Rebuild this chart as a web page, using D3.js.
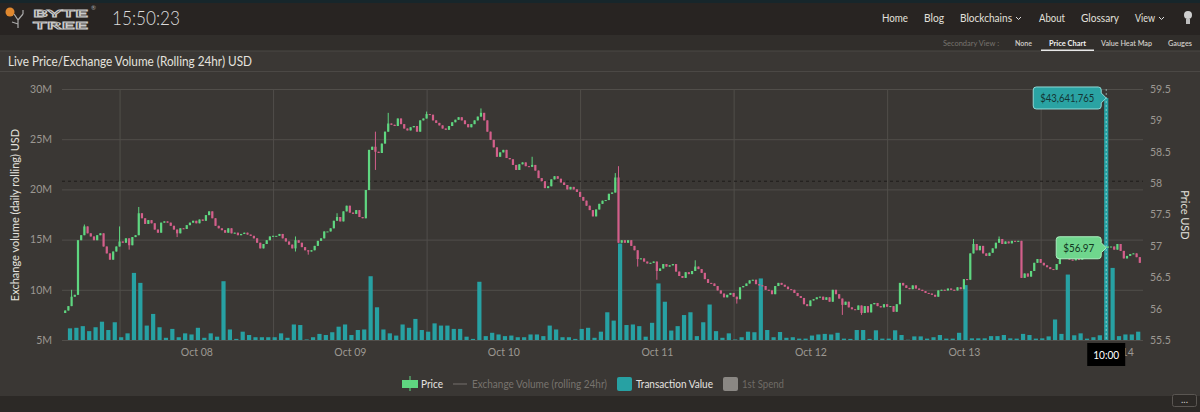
<!DOCTYPE html>
<html>
<head>
<meta charset="utf-8">
<script src="https://cdn.jsdelivr.net/npm/d3@7"></script>
<style>
  html, body { margin: 0; padding: 0; background: #3a3734; overflow: hidden; }
  svg { display: block; font-family: Lato, "Noto Sans", sans-serif; }
</style>
</head>
<body>
<svg id="chart" width="1200" height="412"></svg>
<script>
// ---- data ----
const candleStart = new Date(2019, 9, 7, 15, 30);   // 30 min candles
const candleStepMin = 30;
const firstOpen = 55.93;
const priceCloses = [
  55.97, 56.04, 56.19, 56.22, 57.09, 57.17, 57.31, 57.20, 57.15, 57.09,
  57.17, 57.20, 56.99, 56.88, 56.78, 56.91, 56.99, 57.07, 57.05, 57.12,
  57.01, 57.14, 57.17, 57.52, 57.44, 57.35, 57.41, 57.36, 57.26, 57.21,
  57.37, 57.39, 57.37, 57.32, 57.26, 57.20, 57.28, 57.27, 57.33, 57.37,
  57.40, 57.36, 57.42, 57.40, 57.49, 57.55, 57.44, 57.32, 57.28, 57.25,
  57.21, 57.28, 57.20, 57.21, 57.17, 57.19, 57.21, 57.18, 57.16, 57.12,
  57.05, 56.96, 57.03, 57.09, 57.15, 57.16, 57.16, 57.19, 57.12, 57.07,
  57.02, 56.96, 57.09, 57.05, 56.98, 56.93, 56.91, 56.93, 57.00, 57.08,
  57.12, 57.23, 57.23, 57.28, 57.40, 57.46, 57.39, 57.55, 57.64, 57.53,
  57.51, 57.57, 57.46, 57.44, 57.89, 58.53, 58.58, 58.50, 58.48, 58.63,
  58.82, 58.95, 58.93, 58.91, 59.03, 58.94, 58.87, 58.84, 58.89, 58.91,
  58.82, 59.00, 59.03, 59.10, 59.09, 59.00, 58.96, 58.92, 58.87, 58.85,
  58.91, 58.97, 59.01, 59.05, 59.00, 58.94, 58.89, 58.94, 59.00, 59.06,
  59.12, 59.00, 58.82, 58.69, 58.57, 58.42, 58.49, 58.53, 58.40, 58.38,
  58.29, 58.21, 58.30, 58.33, 58.27, 58.26, 58.29, 58.20, 58.08, 58.03,
  57.92, 57.95, 58.06, 58.11, 58.07, 58.01, 57.97, 57.90, 57.94, 57.90,
  57.86, 57.78, 57.72, 57.64, 57.57, 57.47, 57.58, 57.67, 57.72, 57.73,
  57.83, 57.85, 58.09, 57.05, 57.09, 57.05, 57.09, 57.00, 56.93, 56.79,
  56.80, 56.75, 56.72, 56.73, 56.75, 56.60, 56.64, 56.71, 56.67, 56.69,
  56.71, 56.59, 56.52, 56.49, 56.58, 56.55, 56.60, 56.67, 56.63, 56.57,
  56.47, 56.41, 56.40, 56.36, 56.29, 56.24, 56.18, 56.22, 56.25, 56.19,
  56.15, 56.34, 56.36, 56.40, 56.45, 56.46, 56.39, 56.37, 56.36, 56.30,
  56.29, 56.23, 56.36, 56.41, 56.38, 56.35, 56.31, 56.30, 56.25, 56.20,
  56.17, 56.07, 56.04, 56.13, 56.15, 56.18, 56.19, 56.14, 56.18, 56.11,
  56.30, 56.23, 56.16, 56.06, 56.11, 56.02, 55.99, 55.98, 56.05, 55.93,
  56.04, 55.94, 56.07, 56.09, 56.04, 56.02, 56.07, 56.03, 56.04, 55.95,
  56.07, 56.41, 56.37, 56.33, 56.31, 56.37, 56.32, 56.30, 56.28, 56.25,
  56.24, 56.22, 56.19, 56.29, 56.30, 56.29, 56.32, 56.30, 56.29, 56.34,
  56.31, 56.47, 56.46, 56.88, 57.03, 56.93, 57.00, 56.88, 56.84, 56.89,
  56.96, 57.05, 57.11, 57.03, 57.07, 57.04, 57.08, 57.07, 57.08, 56.49,
  56.56, 56.51, 56.60, 56.73, 56.79, 56.73, 56.69, 56.66, 56.63, 56.62,
  56.71, 56.85, 56.83, 56.80, 56.78, 56.77, 56.79, 56.78, 56.82, 56.86,
  56.90, 56.93, 56.95, 56.98, 56.96, 56.97, 56.99, 56.99, 56.94, 57.03,
  56.92, 56.80, 56.84, 56.87, 56.88, 56.82, 56.73
];
// wicks that reach beyond the body: [candle index, price]
const priceHighs = [
  [2, 56.30], [6, 57.34], [17, 57.31], [23, 57.62], [72, 57.15], [85, 57.52],
  [97, 58.82], [101, 59.12], [113, 59.14], [130, 59.19], [146, 58.42],
  [172, 58.16], [173, 58.27], [197, 56.77], [284, 57.11], [292, 57.15]
];
const priceLows = [
  [20, 56.94], [35, 57.14], [72, 56.91], [76, 56.86], [97, 58.21],
  [179, 56.67], [185, 56.46], [210, 56.08], [243, 55.90], [249, 55.90]
];

const txStart = new Date(2019, 9, 7, 16, 0);         // hourly transaction value
const txValuesM = [
  2.1, 2.2, 2.5, 1.6, 2.3, 3.3, 1.8, 3.2, 0.5, 1.2,
  12.1, 10.3, 2.6, 4.7, 2.3, 0.4, 2.0, 0.5, 1.2, 1.0,
  2.2, 0.4, 1.2, 0.6, 10.6, 1.9, 0.2, 1.5, 0.9, 0.5,
  0.5, 0.5, 0.5, 1.2, 0.4, 2.8, 2.7, 0.1, 0.5, 1.1,
  0.9, 1.4, 2.4, 2.8, 0.9, 1.8, 1.9, 11.5, 5.9, 1.9,
  1.2, 0.8, 2.8, 2.2, 3.8,
  1.8, 1.5, 3.0, 2.6, 2.6, 2.0, 2.0, 0.6, 0.2, 10.5,
  0.7, 1.3, 1.0, 0.7, 0.8, 0.5, 0.5, 1.0, 1.0, 0.7,
  2.6, 1.9, 0.5, 0.5, 0.2, 2.0, 2.2, 0.4, 1.5, 5.0,
  3.5, 17.4, 2.7, 2.8, 2.5, 0.6, 3.1, 10.2, 6.9, 1.7,
  2.5, 4.5, 5.0, 0.7, 3.2, 6.4, 1.6, 0.4, 1.2, 0.1,
  0.5, 1.5, 1.4, 11.1, 1.8, 0.5,
  1.44, 0.4, 0.5, 0.25, 0.25, 0.8, 1.0, 1.1, 1.0, 1.3,
  0.25, 0.2, 1.8, 1.8, 0.2, 1.75, 0.25, 0.25, 1.75, 0.9,
  0.05, 0.65, 0.65, 0.25, 0.5, 0.9, 0.25, 0.25, 1.3, 9.9,
  0.3, 0.3, 0.3, 0.7, 0.7, 0.9, 0.3, 0.25, 1.1, 0.9,
  0.25, 0.3, 0.65, 3.7, 1.1, 11.8, 0.85, 1.2, 0.25, 0.5,
  0.85, 43.641765, 13.0, 0.7, 1.0, 1.0, 1.5
];
const txAxisMaxM = 45.26;

const volumeTicks = [5e6, 10e6, 15e6, 20e6, 25e6, 30e6];
const priceTicks = [55.5, 56, 56.5, 57, 57.5, 58, 58.5, 59, 59.5];
const refPrice = 58.03;
const hoverTime = new Date(2019, 9, 14, 10, 0);
const timeDomain = [new Date(2019, 9, 7, 15, 0), new Date(2019, 9, 14, 16, 0)];

const navLinks = [
  { label: "Home", x: 882, w: 26 }, { label: "Blog", x: 924, w: 20 },
  { label: "Blockchains", x: 960, w: 52, caret: true }, { label: "About", x: 1039, w: 26 },
  { label: "Glossary", x: 1081, w: 38 }, { label: "View", x: 1135, w: 20, caret: true }
];
const secondaryItems = [
  { label: "None", x: 1015, w: 17 }, { label: "Price Chart", x: 1049, w: 37, active: true },
  { label: "Value Heat Map", x: 1101, w: 51 }, { label: "Gauges", x: 1168, w: 24 }
];

// ---- layout ----
const plot = { left: 62, right: 1143, top: 89, bottom: 340 };
const colors = {
  up: "#5fd680", down: "#d35f8b", tx: "#27a1a3", grid: "#514e4a",
  tick: "#9c9892", text: "#e4e2de"
};
const fontStack = "Lato, 'Noto Sans', sans-serif";

const svg = d3.select("#chart");

// text squeezed to the width the reference shows
function fitText(sel, w) {
  return sel.attr("textLength", w).attr("lengthAdjust", "spacingAndGlyphs");
}

// page chrome
svg.append("rect").attr("width", 1200).attr("height", 412).attr("fill", "#3a3734");
svg.append("rect").attr("width", 1200).attr("height", 35).attr("fill", "#282422");
svg.append("rect").attr("width", 1200).attr("height", 3).attr("fill", "#17262b");
svg.append("rect").attr("y", 35).attr("width", 1200).attr("height", 16).attr("fill", "#312e2b");
svg.append("line").attr("x1", 0).attr("x2", 1200).attr("y1", 51).attr("y2", 51).attr("stroke", "#4b4845");
svg.append("line").attr("x1", 0).attr("x2", 1200).attr("y1", 71.5).attr("y2", 71.5).attr("stroke", "#4b4845");
svg.append("rect").attr("y", 396).attr("width", 1200).attr("height", 16).attr("fill", "#2c2926");

// logo
const logo = svg.append("g");
logo.append("circle").attr("cx", 10).attr("cy", 12).attr("r", 4.5).attr("fill", "#e0882f");
logo.append("path").attr("d", "M14,14 L18,20 L18,28 M18,20 L23,14 M23,14 L23,10 M18,24 L12,22")
  .attr("fill", "none").attr("stroke", "#aaa").attr("stroke-width", 1.2);
fitText(logo.append("text").attr("x", 33).attr("y", 17).text("BYTE")
  .attr("font-size", 10).attr("font-weight", 700).attr("fill", "none")
  .attr("stroke", "#c9c9c9").attr("stroke-width", 0.8), 55);
fitText(logo.append("text").attr("x", 33).attr("y", 28.5).text("TREE")
  .attr("font-size", 10).attr("font-weight", 700).attr("fill", "none")
  .attr("stroke", "#c9c9c9").attr("stroke-width", 0.8), 55);
logo.append("text").attr("x", 91).attr("y", 10).text("®").attr("font-size", 6).attr("fill", "#aaa");

fitText(svg.append("text").attr("x", 112).attr("y", 25).text("15:50:23")
  .attr("font-size", 20).attr("font-weight", 300).attr("fill", "#dcdcdc"), 68);

navLinks.forEach(d => {
  fitText(svg.append("text").attr("x", d.x).attr("y", 22).text(d.label)
    .attr("font-size", 12).attr("fill", "#e2e0dc"), d.w);
  if (d.caret) {
    svg.append("path").attr("d", `M${d.x + d.w + 4},17 l2.5,2.5 l2.5,-2.5`)
      .attr("fill", "none").attr("stroke", "#ddd").attr("stroke-width", 1);
  }
});
// bulb
svg.append("circle").attr("cx", 1188).attr("cy", 15).attr("r", 4).attr("fill", "#cfcfcf");
svg.append("rect").attr("x", 1186).attr("y", 19).attr("width", 4).attr("height", 5).attr("fill", "#bdbdbd");

fitText(svg.append("text").attr("x", 943).attr("y", 46).text("Secondary View :")
  .attr("font-size", 8).attr("fill", "#77736e"), 56);
secondaryItems.forEach(d => {
  fitText(svg.append("text").attr("x", d.x).attr("y", 46).text(d.label)
    .attr("font-size", 8).attr("font-weight", d.active ? 700 : 600)
    .attr("fill", d.active ? "#f2f2f2" : "#d0cdc8"), d.w);
  if (d.active) {
    svg.append("rect").attr("x", d.x - 8).attr("y", 49.5).attr("width", d.w + 16).attr("height", 1.5).attr("fill", "#e8e8e8");
  }
});

fitText(svg.append("text").attr("x", 8).attr("y", 66).text("Live Price/Exchange Volume (Rolling 24hr) USD")
  .attr("font-size", 12.5).attr("fill", colors.text), 244);

// ---- scales ----
const x = d3.scaleTime().domain(timeDomain).range([plot.left, plot.right]);
const yVol = d3.scaleLinear().domain([5e6, 30e6]).range([plot.bottom, plot.top]);
const yPrice = d3.scaleLinear().domain([55.5, 59.5]).range([plot.bottom, plot.top]);
const yTx = d3.scaleLinear().domain([0, txAxisMaxM * 1e6]).range([plot.bottom, plot.top]);

// grid
const gridH = svg.append("g").attr("transform", `translate(${plot.left},0)`)
  .call(d3.axisLeft(yVol).tickValues(volumeTicks).tickSize(-(plot.right - plot.left)).tickFormat(""));
gridH.select(".domain").remove();
gridH.selectAll("line").attr("stroke", colors.grid);

const midnights = d3.timeDay.range(d3.timeDay.ceil(timeDomain[0]), timeDomain[1]);
const gridV = svg.append("g").attr("transform", `translate(0,${plot.bottom})`)
  .call(d3.axisBottom(x).tickValues(midnights).tickSize(-(plot.bottom - plot.top)).tickFormat(""));
gridV.select(".domain").remove();
gridV.selectAll("line").attr("stroke", colors.grid);

// reference dashed line
svg.append("line").attr("x1", plot.left).attr("x2", plot.right)
  .attr("y1", yPrice(refPrice)).attr("y2", yPrice(refPrice))
  .attr("stroke", "#1e1c1a").attr("stroke-dasharray", "3,3");

// axes labels
const leftAxis = svg.append("g").attr("transform", `translate(${plot.left - 7},0)`)
  .call(d3.axisLeft(yVol).tickValues(volumeTicks).tickSize(0).tickFormat(d => d / 1e6 + "M"));
leftAxis.select(".domain").remove();
leftAxis.selectAll("text").attr("fill", colors.tick).attr("font-size", 10.5).attr("font-family", fontStack);

const rightAxis = svg.append("g").attr("transform", `translate(${plot.right + 4},0)`)
  .call(d3.axisRight(yPrice).tickValues(priceTicks).tickSize(0).tickFormat(d => String(d)));
rightAxis.select(".domain").remove();
rightAxis.selectAll("text").attr("fill", colors.tick).attr("font-size", 10.5).attr("font-family", fontStack);

const noons = midnights.map(d => d3.timeHour.offset(d, 12));
const bottomAxis = svg.append("g").attr("transform", `translate(0,${plot.bottom + 6})`)
  .call(d3.axisBottom(x).tickValues(noons).tickSize(0).tickFormat(d3.timeFormat("%b %d")));
bottomAxis.select(".domain").remove();
bottomAxis.selectAll("text").attr("fill", colors.tick).attr("font-size", 10.5).attr("font-family", fontStack);

svg.append("text").attr("transform", "translate(19,215) rotate(-90)").attr("text-anchor", "middle")
  .text("Exchange volume (daily rolling) USD").attr("font-size", 11).attr("fill", colors.text);
svg.append("text").attr("transform", "translate(1181,215) rotate(90)").attr("text-anchor", "middle")
  .text("Price USD").attr("font-size", 11).attr("fill", colors.text);

// ---- series ----
svg.append("clipPath").attr("id", "plotclip").append("rect")
  .attr("x", plot.left).attr("y", plot.top - 4).attr("width", plot.right - plot.left).attr("height", plot.bottom - plot.top + 4);
const layer = svg.append("g").attr("clip-path", "url(#plotclip)");

const txData = txValuesM.map((v, i) => ({ t: d3.timeHour.offset(txStart, i), v: v * 1e6 }));
const barCenter = d => x(d3.timeMinute.offset(d.t, 15));
layer.append("g").selectAll("rect").data(txData).join("rect")
  .attr("x", d => barCenter(d) - 2.1).attr("width", 4.2)
  .attr("y", d => yTx(d.v)).attr("height", d => plot.bottom - yTx(d.v))
  .attr("fill", colors.tx);

const candles = priceCloses.map((c, i) => {
  const open = i === 0 ? firstOpen : priceCloses[i - 1];
  return { t: d3.timeMinute.offset(candleStart, i * candleStepMin), open, close: c,
           high: Math.max(open, c), low: Math.min(open, c) };
});
priceHighs.forEach(([i, v]) => { candles[i].high = v; });
priceLows.forEach(([i, v]) => { candles[i].low = v; });

const cg = layer.append("g").selectAll("g").data(candles).join("g")
  .attr("fill", d => d.close >= d.open ? colors.up : colors.down)
  .attr("stroke", d => d.close >= d.open ? colors.up : colors.down);
cg.append("line")
  .attr("x1", d => x(d.t)).attr("x2", d => x(d.t))
  .attr("y1", d => yPrice(d.high)).attr("y2", d => yPrice(d.low)).attr("stroke-width", 1);
cg.append("rect").attr("stroke", "none")
  .attr("x", d => x(d.t) - 1.1).attr("width", 2.2)
  .attr("y", d => yPrice(Math.max(d.open, d.close)))
  .attr("height", d => Math.max(1, Math.abs(yPrice(d.open) - yPrice(d.close))));

// ---- hover state ----
const hx = x(d3.timeMinute.offset(hoverTime, 15));
svg.append("line").attr("x1", hx).attr("x2", hx).attr("y1", plot.top).attr("y2", plot.bottom)
  .attr("stroke", "#bfe9e8").attr("stroke-opacity", 0.6).attr("stroke-dasharray", "2,2");

function callout(ax, ay, text, textW, fill, stroke, textColor) {
  const g = svg.append("g");
  const w = textW + 14, h = 22;
  const right = ax - 5, left = right - w, top = ay - h / 2, bottom = ay + h / 2, r = 3;
  g.append("path").attr("d",
    `M${left + r},${top} H${right - r} Q${right},${top} ${right},${top + r} V${ay - 5} L${ax},${ay} L${right},${ay + 5}` +
    ` V${bottom - r} Q${right},${bottom} ${right - r},${bottom} H${left + r} Q${left},${bottom} ${left},${bottom - r}` +
    ` V${top + r} Q${left},${top} ${left + r},${top} Z`)
    .attr("fill", fill).attr("stroke", stroke).attr("stroke-width", 1);
  fitText(g.append("text").text(text).attr("font-size", 11.5).attr("fill", textColor)
    .attr("x", left + 7).attr("y", ay + 4), textW);
}
const hoverTx = txData.find(d => +d.t === +hoverTime);
const hoverCandle = candles.find(d => +d.t === +hoverTime);
callout(hx, yTx(hoverTx.v), d3.format("$,.0f")(hoverTx.v), 54, "#2aa3a3", "#8fd9d6", "#143534");
callout(hx, yPrice(hoverCandle.close), d3.format("$.2f")(hoverCandle.close), 31, "#6fd68d", "#a9efbe", "#12371f");

const tl = svg.append("g");
tl.append("rect").attr("x", hx - 19).attr("y", 343).attr("width", 38).attr("height", 23).attr("fill", "#000");
fitText(tl.append("text").text(d3.timeFormat("%H:%M")(hoverTime)).attr("font-size", 11.5).attr("fill", "#fff")
  .attr("text-anchor", "middle").attr("x", hx).attr("y", 359), 26);

// ---- legend ----
const lg = svg.append("g");
lg.append("line").attr("x1", 410).attr("x2", 410).attr("y1", 376).attr("y2", 391).attr("stroke", colors.up);
lg.append("rect").attr("x", 402).attr("y", 380).attr("width", 16).attr("height", 8).attr("fill", colors.up);
fitText(lg.append("text").attr("x", 421).attr("y", 388).text("Price").attr("font-size", 11.5).attr("fill", "#e6e4e0"), 22);
lg.append("line").attr("x1", 453).attr("x2", 467).attr("y1", 384).attr("y2", 384).attr("stroke", "#75716c");
fitText(lg.append("text").attr("x", 472).attr("y", 388).text("Exchange Volume (rolling 24hr)").attr("font-size", 11.5).attr("fill", "#77736e"), 135);
lg.append("rect").attr("x", 617).attr("y", 377).attr("width", 15).attr("height", 14).attr("rx", 2).attr("fill", colors.tx);
fitText(lg.append("text").attr("x", 636).attr("y", 388).text("Transaction Value").attr("font-size", 11.5).attr("fill", "#e6e4e0"), 77);
lg.append("rect").attr("x", 723).attr("y", 377).attr("width", 15).attr("height", 14).attr("rx", 2).attr("fill", "#8a8783");
fitText(lg.append("text").attr("x", 742).attr("y", 388).text("1st Spend").attr("font-size", 11.5).attr("fill", "#6f6b66"), 42);

// menu button
svg.append("rect").attr("x", 1172.5).attr("y", 394.5).attr("width", 24).attr("height", 12).attr("rx", 2)
  .attr("fill", "#2c2926").attr("stroke", "#5a5652");
svg.append("text").attr("x", 1184.5).attr("y", 403).attr("text-anchor", "middle").text("...")
  .attr("font-size", 10).attr("fill", "#ccc");
</script>
</body>
</html>
